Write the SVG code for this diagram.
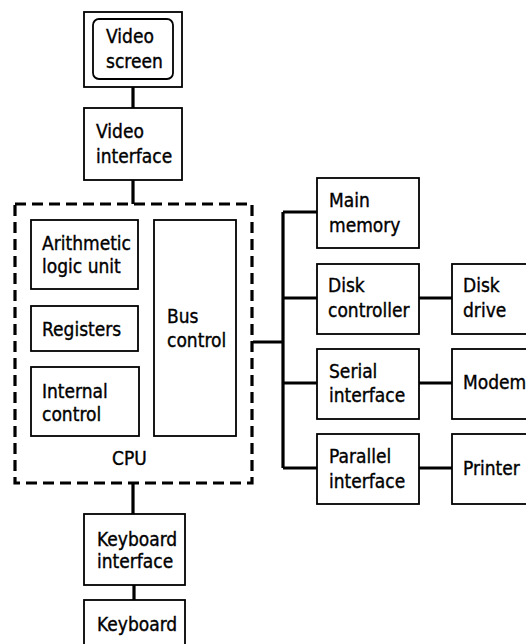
<svg xmlns="http://www.w3.org/2000/svg" width="526" height="644" viewBox="0 0 526 644">
<style>
.box{fill:#fff;stroke:#000;stroke-width:1.8}
.t{font-family:"Liberation Sans Narrow","DejaVu Sans Condensed","Liberation Sans",sans-serif;font-size:19px;fill:#000;stroke:#000;stroke-width:0.35}
.c{fill:none;stroke:#000;stroke-width:3.2}
</style>
<rect width="526" height="644" fill="#fff"/>
<g id="connectors">
<path class="c" d="M133 87V108M133 180V204M133 483V514M134 585V600"/>
<path class="c" d="M253 342H283M283 212V468M283 212H317M283 298H317M283 383H317M283 468H317M419 298H452M419 383H452M419 468H452"/>
</g>
<g id="cpu">
<rect x="15" y="204" width="237" height="279" fill="none" stroke="#000" stroke-width="3.2" stroke-dasharray="11 6"/>
<text class="t" x="112" y="465">CPU</text>
</g>
<g id="video-screen">
<rect class="box" x="84" y="12" width="98" height="75"/>
<rect class="box" x="93" y="19" width="80" height="60" rx="6"/>
<text class="t" x="106" y="43">Video</text>
<text class="t" x="106" y="68">screen</text>
</g>
<g id="video-interface">
<rect class="box" x="84" y="108" width="98" height="72"/>
<text class="t" x="96" y="138">Video</text>
<text class="t" x="96" y="163">interface</text>
</g>
<g id="alu">
<rect class="box" x="31" y="220" width="107" height="69"/>
<text class="t" x="42" y="250">Arithmetic</text>
<text class="t" x="42" y="273">logic unit</text>
</g>
<g id="registers">
<rect class="box" x="31" y="306" width="107" height="45"/>
<text class="t" x="42" y="336">Registers</text>
</g>
<g id="internal-control">
<rect class="box" x="31" y="367" width="108" height="69"/>
<text class="t" x="42" y="398">Internal</text>
<text class="t" x="42" y="421">control</text>
</g>
<g id="bus-control">
<rect class="box" x="154" y="220" width="82" height="216"/>
<text class="t" x="167" y="323">Bus</text>
<text class="t" x="167" y="347">control</text>
</g>
<g id="main-memory">
<rect class="box" x="317" y="178" width="102" height="70"/>
<text class="t" x="329" y="207">Main</text>
<text class="t" x="329" y="232">memory</text>
</g>
<g id="disk-controller">
<rect class="box" x="317" y="264" width="102" height="70"/>
<text class="t" x="328" y="292">Disk</text>
<text class="t" x="328" y="317">controller</text>
</g>
<g id="disk-drive">
<rect class="box" x="452" y="264" width="90" height="70"/>
<text class="t" x="463" y="292">Disk</text>
<text class="t" x="463" y="317">drive</text>
</g>
<g id="serial-interface">
<rect class="box" x="317" y="349" width="102" height="70"/>
<text class="t" x="329" y="378">Serial</text>
<text class="t" x="329" y="402">interface</text>
</g>
<g id="modem">
<rect class="box" x="452" y="349" width="90" height="70"/>
<text class="t" x="463" y="389">Modem</text>
</g>
<g id="parallel-interface">
<rect class="box" x="317" y="434" width="102" height="70"/>
<text class="t" x="329" y="463">Parallel</text>
<text class="t" x="329" y="488">interface</text>
</g>
<g id="printer">
<rect class="box" x="452" y="434" width="90" height="70"/>
<text class="t" x="463" y="475">Printer</text>
</g>
<g id="keyboard-interface">
<rect class="box" x="84" y="514" width="101" height="71"/>
<text class="t" x="97" y="546">Keyboard</text>
<text class="t" x="97" y="568">interface</text>
</g>
<g id="keyboard">
<rect class="box" x="84" y="600" width="101" height="60"/>
<text class="t" x="97" y="631">Keyboard</text>
</g>
</svg>
